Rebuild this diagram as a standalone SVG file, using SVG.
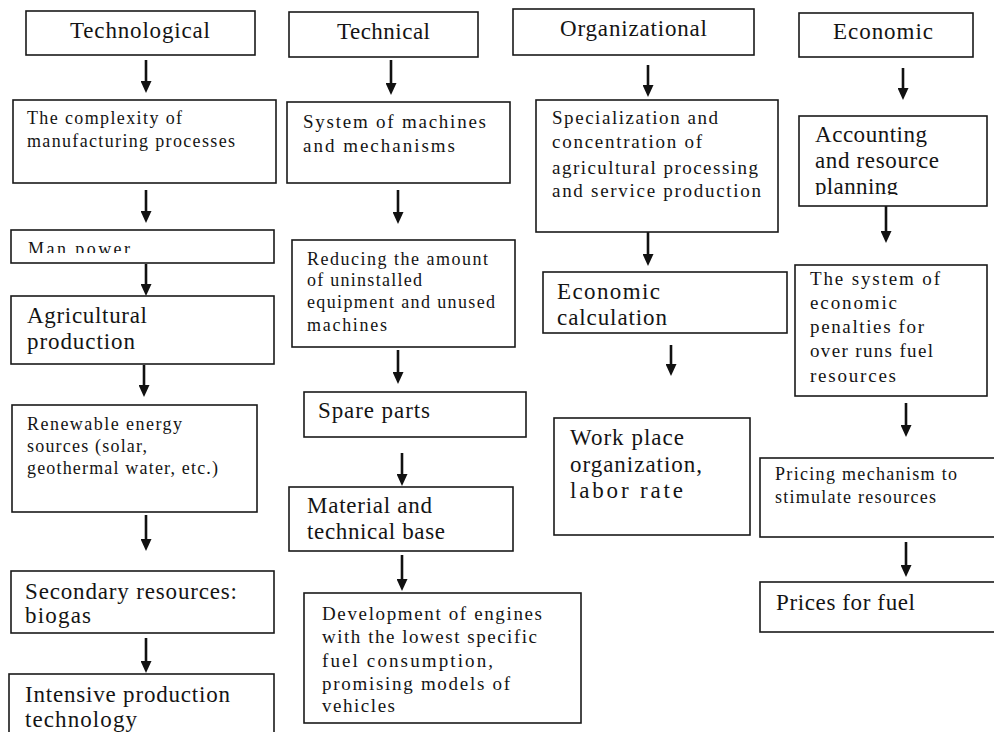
<svg xmlns="http://www.w3.org/2000/svg" width="994" height="732" viewBox="0 0 994 732">
<style>
.box{fill:#fff;stroke:#1a1a1a;stroke-width:1.6}
text{font-family:"Liberation Serif","Times New Roman",serif;fill:#141414}
.t{font-size:23px}
.l{font-size:23px}
.m{font-size:19px}
.s{font-size:18px}
.arr{stroke:#111;stroke-width:2.6;fill:none}
</style>
<defs>
<marker id="ah" markerUnits="userSpaceOnUse" markerWidth="12" markerHeight="11" refX="4" refY="5.5" orient="auto">
<path d="M0,0 L12,5.5 L0,11 z" fill="#111"/>
</marker>
<clipPath id="clipMan"><rect x="0" y="0" width="300" height="253"/></clipPath>
<clipPath id="clipPlan"><rect x="790" y="0" width="210" height="195"/></clipPath>
</defs>
<rect width="994" height="732" fill="#fff"/>

<g id="connectors">
<line class="arr" x1="146" y1="60" x2="146" y2="85" marker-end="url(#ah)"/>
<line class="arr" x1="146" y1="190" x2="146" y2="215" marker-end="url(#ah)"/>
<line class="arr" x1="146" y1="264" x2="146" y2="288" marker-end="url(#ah)"/>
<line class="arr" x1="144" y1="365" x2="144" y2="389" marker-end="url(#ah)"/>
<line class="arr" x1="146" y1="515" x2="146" y2="543" marker-end="url(#ah)"/>
<line class="arr" x1="146" y1="638" x2="146" y2="665" marker-end="url(#ah)"/>
<line class="arr" x1="391" y1="60" x2="391" y2="87" marker-end="url(#ah)"/>
<line class="arr" x1="398" y1="190" x2="398" y2="216" marker-end="url(#ah)"/>
<line class="arr" x1="398" y1="350" x2="398" y2="376" marker-end="url(#ah)"/>
<line class="arr" x1="402" y1="453" x2="402" y2="478" marker-end="url(#ah)"/>
<line class="arr" x1="402" y1="555" x2="402" y2="583" marker-end="url(#ah)"/>
<line class="arr" x1="648" y1="65" x2="648" y2="89" marker-end="url(#ah)"/>
<line class="arr" x1="648" y1="232" x2="648" y2="258" marker-end="url(#ah)"/>
<line class="arr" x1="671" y1="345" x2="671" y2="368" marker-end="url(#ah)"/>
<line class="arr" x1="903" y1="68" x2="903" y2="92" marker-end="url(#ah)"/>
<line class="arr" x1="886" y1="206" x2="886" y2="235" marker-end="url(#ah)"/>
<line class="arr" x1="906" y1="403" x2="906" y2="429" marker-end="url(#ah)"/>
<line class="arr" x1="906" y1="542" x2="906" y2="569" marker-end="url(#ah)"/>
</g>

<g id="n-technological">
<rect class="box" x="26" y="11" width="229" height="44"/>
<text class="t" x="70" y="38" textLength="140" lengthAdjust="spacing">Technological</text>
</g>
<g id="n-complexity">
<rect class="box" x="13" y="100" width="263" height="83"/>
<text class="s" x="27" y="124" textLength="155" lengthAdjust="spacing">The complexity of</text>
<text class="s" x="27" y="147" textLength="208" lengthAdjust="spacing">manufacturing processes</text>
</g>
<g id="n-manpower">
<rect class="box" x="11" y="230" width="263" height="33"/>
<text class="s" x="28" y="255" textLength="102" lengthAdjust="spacing" clip-path="url(#clipMan)">Man power</text>
</g>
<g id="n-agricultural">
<rect class="box" x="11" y="296" width="263" height="68"/>
<text class="l" x="27" y="323" textLength="120" lengthAdjust="spacing">Agricultural</text>
<text class="l" x="27" y="349" textLength="108" lengthAdjust="spacing">production</text>
</g>
<g id="n-renewable">
<rect class="box" x="12" y="405" width="245" height="107"/>
<text class="s" x="27" y="430" textLength="155" lengthAdjust="spacing">Renewable energy</text>
<text class="s" x="27" y="452" textLength="120" lengthAdjust="spacing">sources (solar,</text>
<text class="s" x="27" y="474" textLength="191" lengthAdjust="spacing">geothermal water, etc.)</text>
</g>
<g id="n-secondary">
<rect class="box" x="11" y="571" width="263" height="62"/>
<text class="l" x="25" y="599" textLength="212" lengthAdjust="spacing">Secondary resources:</text>
<text class="l" x="25" y="623" textLength="66" lengthAdjust="spacing">biogas</text>
</g>
<g id="n-intensive">
<rect class="box" x="9" y="674" width="265" height="70"/>
<text class="l" x="25" y="702" textLength="205" lengthAdjust="spacing">Intensive production</text>
<text class="l" x="25" y="727" textLength="112" lengthAdjust="spacing">technology</text>
</g>

<g id="n-technical">
<rect class="box" x="289" y="12" width="189" height="45"/>
<text class="t" x="337" y="39" textLength="93" lengthAdjust="spacing">Technical</text>
</g>
<g id="n-system">
<rect class="box" x="287" y="102" width="223" height="81"/>
<text class="m" x="303" y="128" textLength="183" lengthAdjust="spacing">System of machines</text>
<text class="m" x="303" y="152" textLength="152" lengthAdjust="spacing">and mechanisms</text>
</g>
<g id="n-reducing">
<rect class="box" x="292" y="240" width="223" height="107"/>
<text class="s" x="307" y="265" textLength="181" lengthAdjust="spacing">Reducing the amount</text>
<text class="s" x="307" y="286" textLength="115" lengthAdjust="spacing">of uninstalled</text>
<text class="s" x="307" y="308" textLength="188" lengthAdjust="spacing">equipment and unused</text>
<text class="s" x="307" y="331" textLength="80" lengthAdjust="spacing">machines</text>
</g>
<g id="n-spare">
<rect class="box" x="304" y="392" width="222" height="45"/>
<text class="l" x="318" y="418" textLength="112" lengthAdjust="spacing">Spare parts</text>
</g>
<g id="n-material">
<rect class="box" x="289" y="487" width="224" height="64"/>
<text class="l" x="307" y="513" textLength="125" lengthAdjust="spacing">Material and</text>
<text class="l" x="307" y="539" textLength="138" lengthAdjust="spacing">technical base</text>
</g>
<g id="n-development">
<rect class="box" x="304" y="593" width="277" height="130"/>
<text class="m" x="322" y="620" textLength="220" lengthAdjust="spacing">Development of engines</text>
<text class="m" x="322" y="643" textLength="215" lengthAdjust="spacing">with the lowest specific</text>
<text class="m" x="322" y="667" textLength="171" lengthAdjust="spacing">fuel consumption,</text>
<text class="m" x="322" y="690" textLength="188" lengthAdjust="spacing">promising models of</text>
<text class="m" x="322" y="712" textLength="73" lengthAdjust="spacing">vehicles</text>
</g>

<g id="n-organizational">
<rect class="box" x="513" y="9" width="241" height="46"/>
<text class="t" x="560" y="36" textLength="147" lengthAdjust="spacing">Organizational</text>
</g>
<g id="n-specialization">
<rect class="box" x="536" y="100" width="242" height="132"/>
<text class="m" x="552" y="124" textLength="166" lengthAdjust="spacing">Specialization and</text>
<text class="m" x="552" y="148" textLength="150" lengthAdjust="spacing">concentration of</text>
<text class="m" x="552" y="174" textLength="206" lengthAdjust="spacing">agricultural processing</text>
<text class="m" x="552" y="197" textLength="209" lengthAdjust="spacing">and service production</text>
</g>
<g id="n-calculation">
<rect class="box" x="543" y="272" width="244" height="61"/>
<text class="l" x="557" y="299" textLength="103" lengthAdjust="spacing">Economic</text>
<text class="l" x="557" y="325" textLength="110" lengthAdjust="spacing">calculation</text>
</g>
<g id="n-workplace">
<rect class="box" x="554" y="418" width="196" height="117"/>
<text class="t" x="570" y="445" textLength="114" lengthAdjust="spacing">Work place</text>
<text class="t" x="570" y="472" textLength="132" lengthAdjust="spacing">organization,</text>
<text class="t" x="570" y="498" textLength="113" lengthAdjust="spacing">labor rate</text>
</g>

<g id="n-economic">
<rect class="box" x="799" y="13" width="174" height="44"/>
<text class="t" x="833" y="39" textLength="100" lengthAdjust="spacing">Economic</text>
</g>
<g id="n-accounting">
<rect class="box" x="799" y="116" width="188" height="90"/>
<text class="l" x="815" y="142" textLength="112" lengthAdjust="spacing">Accounting</text>
<text class="l" x="815" y="168" textLength="124" lengthAdjust="spacing">and resource</text>
<text class="l" x="815" y="194" textLength="83" lengthAdjust="spacing" clip-path="url(#clipPlan)">planning</text>
</g>
<g id="n-penalties">
<rect class="box" x="795" y="265" width="192" height="131"/>
<text class="m" x="810" y="285" textLength="130" lengthAdjust="spacing">The system of</text>
<text class="m" x="810" y="309" textLength="87" lengthAdjust="spacing">economic</text>
<text class="m" x="810" y="333" textLength="114" lengthAdjust="spacing">penalties for</text>
<text class="m" x="810" y="357" textLength="123" lengthAdjust="spacing">over runs fuel</text>
<text class="m" x="810" y="382" textLength="86" lengthAdjust="spacing">resources</text>
</g>
<g id="n-pricing">
<rect class="box" x="760" y="458" width="240" height="79"/>
<text class="s" x="775" y="480" textLength="182" lengthAdjust="spacing">Pricing mechanism to</text>
<text class="s" x="775" y="503" textLength="161" lengthAdjust="spacing">stimulate resources</text>
</g>
<g id="n-prices">
<rect class="box" x="760" y="582" width="240" height="50"/>
<text class="l" x="776" y="610" textLength="139" lengthAdjust="spacing">Prices for fuel</text>
</g>
</svg>
